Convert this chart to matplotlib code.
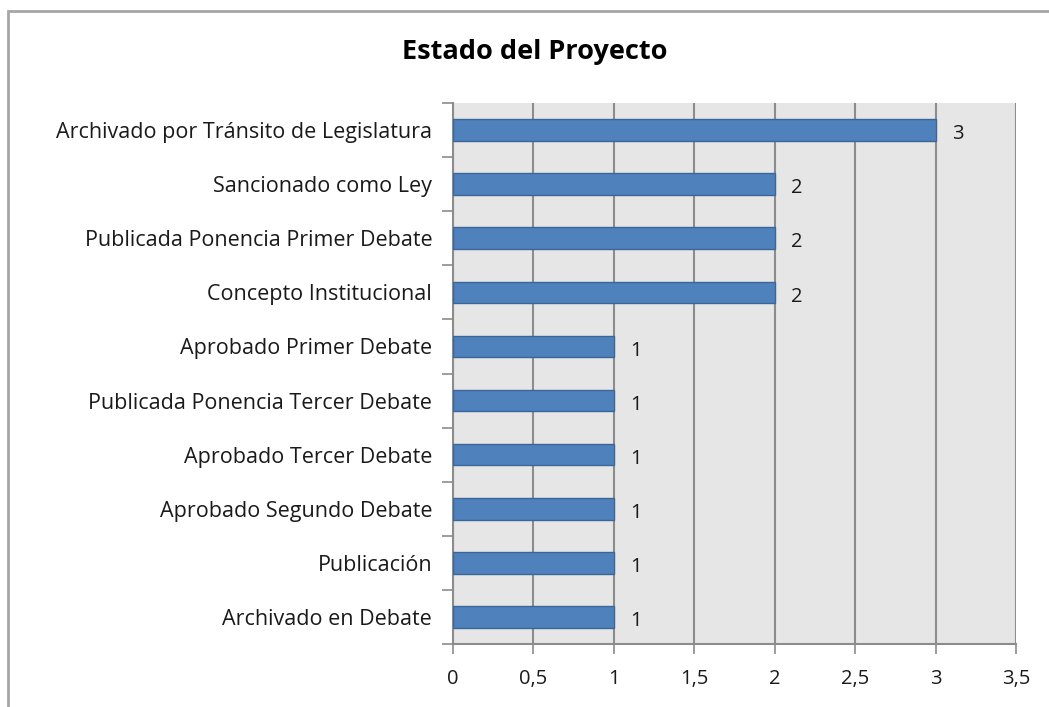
import matplotlib.pyplot as plt
from matplotlib.patches import Rectangle
from matplotlib.ticker import FuncFormatter, FixedLocator
import numpy as np

plt.rcParams['font.family'] = ['Open Sans', 'DejaVu Sans']

estados = [
    "Archivado por Tránsito de Legislatura",
    "Sancionado como Ley",
    "Publicada Ponencia Primer Debate",
    "Concepto Institucional",
    "Aprobado Primer Debate",
    "Publicada Ponencia Tercer Debate",
    "Aprobado Tercer Debate",
    "Aprobado Segundo Debate",
    "Publicación",
    "Archivado en Debate",
]
cantidad = [3, 2, 2, 2, 1, 1, 1, 1, 1, 1]

bar_color = '#4F81BD'
edge_color = '#3A6699'
grid_color = '#8C8C8C'
text_color = '#1A1A1A'
fs = 14.5

fig = plt.figure(figsize=(10.49, 7.07), dpi=100)
# outer chart border (Excel style)
fig.patches.append(Rectangle((8 / 1049, -0.05), 1.1, 1 - 11 / 707 + 0.05,
                             transform=fig.transFigure, fill=False,
                             edgecolor='#A6A6A6', linewidth=2))

ax = fig.add_axes([453 / 1049, 1 - 644 / 707, (1016 - 453) / 1049, (644 - 103) / 707])
ax.set_facecolor('#E6E6E6')

y = np.arange(len(estados))[::-1]
ax.barh(y, cantidad, height=0.4, color=bar_color, edgecolor=edge_color, linewidth=1, zorder=3)

for yi, v in zip(y, cantidad):
    ax.annotate(str(v), (v, yi), xytext=(12, -3), textcoords='offset points',
                va='center', ha='left', fontsize=fs, color=text_color)

ax.set_xlim(0, 3.5)
ax.set_ylim(-0.5, len(estados) - 0.5)
ax.set_xticks(np.arange(0, 3.51, 0.5))
ax.xaxis.set_major_formatter(FuncFormatter(lambda x, p: ('%g' % x).replace('.', ',')))
ax.grid(axis='x', color=grid_color, linewidth=1.5, zorder=1)

ax.set_yticks(y)
ax.set_yticklabels(estados)
ax.yaxis.set_minor_locator(FixedLocator(np.arange(-0.5, len(estados), 1.0)))
ax.tick_params(axis='y', which='major', length=0, pad=15, labelsize=15.5, labelcolor=text_color)
ax.tick_params(axis='y', which='minor', length=8, width=1.2, color=grid_color)
ax.tick_params(axis='x', length=7, width=1.2, color=grid_color, pad=11, labelsize=fs,
               labelcolor=text_color)

for side in ['top', 'right']:
    ax.spines[side].set_visible(False)
ax.spines['left'].set_color(grid_color)
ax.spines['left'].set_linewidth(1.5)
ax.spines['bottom'].set_color(grid_color)
ax.spines['bottom'].set_linewidth(1.5)

fig.text(535 / 1049, 1 - 52 / 707, 'Estado del Proyecto', ha='center', va='center',
         fontsize=19.5, fontweight='bold', color='#000000')

fig.savefig('out.png', dpi=100)
